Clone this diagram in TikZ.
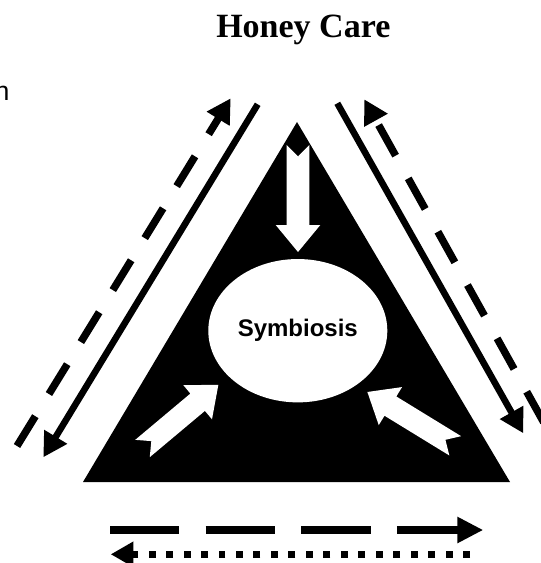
\documentclass[tikz,border=0pt]{standalone}
\usepackage{fontspec}
\setmainfont{Liberation Serif}
\setsansfont{Liberation Sans}
\usepackage{tikz}
\usetikzlibrary{shapes,arrows.meta,positioning}

\begin{document}
\begin{tikzpicture}[
  x=0.75pt,
  y=-0.75pt,
  solidleg/.style={line width=4.9pt, -{Triangle[length=18pt, width=19pt]}},
  dashleg/.style={line width=5.6pt, dash pattern=on 26.25pt off 19.5pt, -{Triangle[length=18pt, width=19pt]}},
  longdash/.style={line width=6pt, dash pattern=on 52pt off 19.7pt, -{Triangle[length=19.5pt, width=18.5pt]}},
  dotleg/.style={line width=5.5pt, dash pattern=on 5.2pt off 7.9pt, -{Triangle[length=17pt, width=18pt]}},
  core/.style={ellipse, fill=white, minimum width=134.25pt, minimum height=107.5pt, inner sep=0pt, font=\sffamily\bfseries\fontsize{18}{20}\selectfont},
  notcharrow/.pic={\fill[white] (0,11.3) -- (#1-27,11.3) -- (#1-27,22.3) -- (#1,0) -- (#1-27,-22.3) -- (#1-27,-11.3) -- (0,-11.3) -- (11.5,0) -- cycle;}
]
\useasboundingbox (0,0) rectangle (540,563);

\node[font=\bfseries\fontsize{25.5}{30}\selectfont, anchor=base, inner sep=0pt] (title) at (303.3,37.3) {Honey Care};
\node[font=\sffamily\fontsize{20}{24}\selectfont, anchor=base west, inner sep=0pt] (cutoff) at (-5.7,100.7) {n};

\coordinate (tl) at (83,482);
\coordinate (tt) at (297,122);
\coordinate (tr) at (510,482);
\fill[black] (tl) -- (tt) -- (tr) -- cycle;

\node[core] (sym) at (297.8,330.7) {Symbiosis};
\pic (down) [rotate=-90] at (298,145) {notcharrow=107};
\pic (left) [rotate=40] at (142.5,448.5) {notcharrow=99};
\pic (right) [rotate=148.5] at (455.2,445.8) {notcharrow=103};

\coordinate (ls1) at (257.7,104.3);
\coordinate (ls2) at (43.3,457.3);
\coordinate (ld1) at (17,446);
\coordinate (ld2) at (230.7,98.3);
\draw[solidleg] (ls1) -- (ls2);
\draw[dashleg] (ld1) -- (ld2);

\coordinate (rs1) at (337.3,103.3);
\coordinate (rs2) at (523.3,433.3);
\coordinate (rd1) at (543.7,422.3);
\coordinate (rd2) at (364.3,99.3);
\draw[solidleg] (rs1) -- (rs2);
\draw[dashleg] (rd1) -- (rd2);

\coordinate (bd1) at (110,530);
\coordinate (bd2) at (483.3,530);
\coordinate (bt1) at (470,554.3);
\coordinate (bt2) at (110.7,554.3);
\draw[longdash] (bd1) -- (bd2);
\draw[dotleg] (bt1) -- (bt2);
\end{tikzpicture}
\end{document}
